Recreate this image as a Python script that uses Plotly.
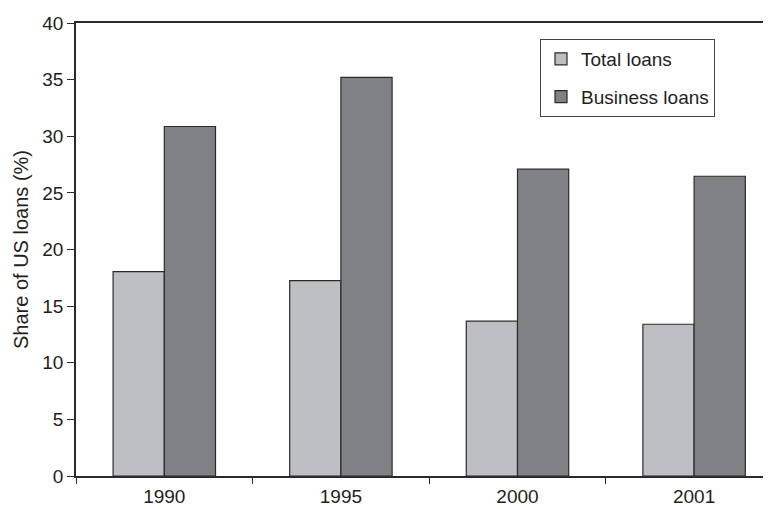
import plotly.graph_objects as go

years = ["1990", "1995", "2000", "2001"]
total_loans = [18.05, 17.25, 13.67, 13.4]
business_loans = [30.86, 35.2, 27.09, 26.47]
y_ticks = [0, 5, 10, 15, 20, 25, 30, 35, 40]

FONT = "Liberation Sans, Arial, sans-serif"
TXT = "#231f20"
LINE = "#2b2b2b"
FS = 19

fig = go.Figure()
fig.add_trace(go.Bar(
    x=years, y=total_loans, name="Total loans", legendgroup="a",
    marker=dict(color="#bebfc3", line=dict(color=LINE, width=1.2)),
))
fig.add_trace(go.Bar(
    x=years, y=business_loans, name="Business loans", legendgroup="b",
    marker=dict(color="#808185", line=dict(color=LINE, width=1.2)),
))

# page has an 8px body margin: size the figure so it ends at the window edge
W, H = 763, 501
L, T, B, R = 68, 15, 33, 0
plot_w = W - L - R
plot_h = H - T - B
cat_px = 176.6

fig.update_layout(
    width=W, height=H,
    margin=dict(l=L, r=R, t=T, b=B, autoexpand=False),
    paper_bgcolor="white", plot_bgcolor="white",
    font=dict(family=FONT, size=FS, color=TXT),
    barmode="group", bargap=0.42, bargroupgap=0,
    showlegend=True,
    legend=dict(
        x=(532 - L) / plot_w, y=1 - (31 - T) / plot_h,
        xanchor="left", yanchor="top",
        bordercolor="#444", borderwidth=1, bgcolor="white",
        font=dict(family=FONT, size=FS, color=TXT),
        traceorder="grouped", tracegroupgap=10,
    ),
    xaxis=dict(
        type="category",
        range=[-0.5, -0.5 + plot_w / cat_px],
        showline=True, linecolor=LINE, linewidth=1.5, mirror=True,
        ticks="outside", tickson="boundaries", ticklen=6, tickwidth=1.2, tickcolor=LINE,
        showgrid=False, zeroline=False, ticklabelstandoff=2,
        tickfont=dict(family=FONT, size=FS, color=TXT),
    ),
    yaxis=dict(
        range=[0, 40], tickvals=y_ticks,
        showline=True, linecolor=LINE, linewidth=1.5,
        ticks="outside", ticklen=7, tickwidth=1.2, tickcolor=LINE,
        showgrid=False, zeroline=False,
        tickfont=dict(family=FONT, size=FS, color=TXT),
        title=dict(text="Share of US loans (%)", font=dict(family=FONT, size=20, color=TXT), standoff=8),
    ),
)

fig.write_html("out.html")
